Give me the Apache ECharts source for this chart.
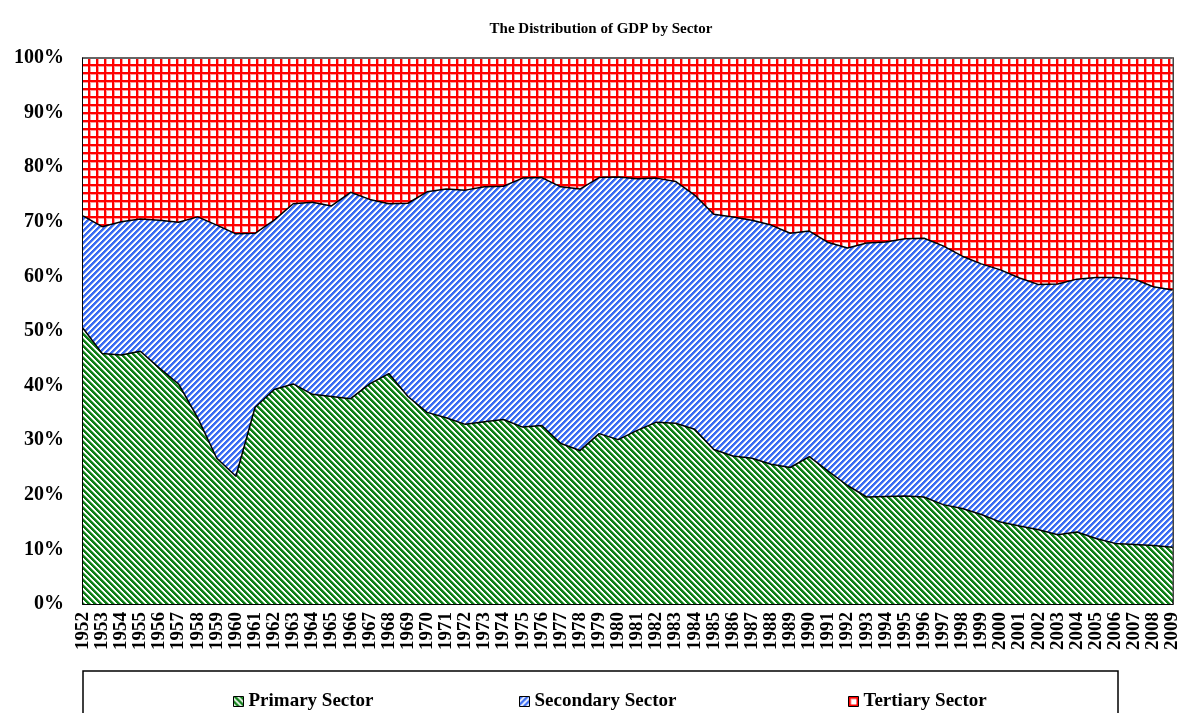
<!DOCTYPE html>
<html>
<head>
<meta charset="utf-8">
<title>GDP by Sector</title>
<script src="https://cdn.jsdelivr.net/npm/echarts@6/dist/echarts.min.js"></script>
<style>
  html, body { margin: 0; padding: 0; background: #fff; }
  #chart { width: 1182px; height: 713px; }
</style>
</head>
<body>
<div id="chart"></div>
<script>
var years = []
for (var y = 1952; y <= 2009; y++) {
  years.push(String(y))
}

// share of GDP (%)
var primary = [
  50.5, 45.9, 45.6, 46.3, 43.2, 40.3, 34.1, 26.7, 23.4, 36.0,
  39.3, 40.3, 38.4, 38.0, 37.6, 40.3, 42.2, 38.0, 35.1, 34.1,
  32.9, 33.4, 33.8, 32.4, 32.7, 29.4, 28.1, 31.2, 30.1, 31.8,
  33.3, 33.1, 32.0, 28.3, 27.1, 26.7, 25.6, 25.0, 27.0, 24.3,
  21.7, 19.6, 19.7, 19.8, 19.6, 18.2, 17.5, 16.4, 15.0, 14.3,
  13.6, 12.7, 13.2, 12.0, 11.1, 10.9, 10.7, 10.4
]
var secondary = [
  20.6, 23.2, 24.4, 24.2, 27.1, 29.6, 36.8, 42.7, 44.4, 31.9,
  31.0, 33.0, 35.2, 34.9, 37.8, 33.8, 31.1, 35.4, 40.4, 41.9,
  42.9, 43.0, 42.7, 45.6, 45.4, 47.0, 47.9, 46.9, 48.1, 46.1,
  44.7, 44.3, 42.9, 43.1, 43.8, 43.6, 43.8, 42.9, 41.3, 41.9,
  43.5, 46.5, 46.6, 47.1, 47.4, 47.4, 46.2, 45.9, 46.2, 45.4,
  44.9, 45.9, 46.3, 47.8, 48.7, 48.6, 47.4, 47.1
]
var tertiary = [
  28.9, 30.9, 30.0, 29.5, 29.7, 30.1, 29.1, 30.6, 32.2, 32.1,
  29.7, 26.7, 26.4, 27.1, 24.6, 25.9, 26.7, 26.6, 24.5, 24.0,
  24.2, 23.6, 23.5, 22.0, 21.9, 23.6, 24.0, 21.9, 21.8, 22.1,
  22.0, 22.6, 25.1, 28.6, 29.1, 29.7, 30.6, 32.1, 31.7, 33.8,
  34.8, 33.9, 33.7, 33.1, 33.0, 34.4, 36.3, 37.7, 38.8, 40.3,
  41.5, 41.4, 40.5, 40.2, 40.2, 40.5, 41.9, 42.5
]
var sectorNames = ['Primary Sector', 'Secondary Sector', 'Tertiary Sector']

var font = 'Liberation Serif, Times New Roman, serif'

// excel-like hatch fills
function stripes(color, soft, dir) {
  var size = 6
  var c = document.createElement('canvas')
  c.width = size
  c.height = size
  var ctx = c.getContext('2d')
  ctx.fillStyle = '#fff'
  ctx.fillRect(0, 0, size, size)
  for (var i = 0; i < size; i++) {
    for (var j = 0; j < size; j++) {
      var k = dir > 0 ? (i + j) % size : ((i - j) % size + size) % size
      if (k < 3) {
        ctx.fillStyle = color
        ctx.fillRect(i, j, 1, 1)
      } else if (k === 3) {
        ctx.fillStyle = soft
        ctx.fillRect(i, j, 1, 1)
      }
    }
  }
  return c
}
function grid() {
  var size = 8
  var c = document.createElement('canvas')
  c.width = size
  c.height = size
  var ctx = c.getContext('2d')
  ctx.fillStyle = '#fff'
  ctx.fillRect(0, 0, size, size)
  ctx.fillStyle = '#ff9a9a'
  ctx.fillRect(2, 0, 1, size)
  ctx.fillRect(0, 2, size, 1)
  ctx.fillStyle = '#ff0000'
  ctx.fillRect(0, 0, 2, size)
  ctx.fillRect(0, 0, size, 2)
  return c
}

var fills = [
  { image: stripes('#0f7f17', '#8cc48f', -1), repeat: 'repeat' },
  { image: stripes('#3a6cf2', '#a9bff7', 1), repeat: 'repeat' },
  { image: grid(), repeat: 'repeat' }
]

function legendAt(name, left) {
  return {
    data: [name],
    left: left,
    top: 687,
    itemWidth: 10,
    itemHeight: 10,
    icon: 'rect',
    itemStyle: { borderColor: '#000', borderWidth: 1 },
    textStyle: { fontFamily: font, fontWeight: 'bold', fontSize: 19, color: '#000' }
  }
}

var chart = echarts.init(document.getElementById('chart'), null, { renderer: 'canvas' })
chart.setOption({
  animation: false,
  title: {
    text: 'The Distribution of GDP by Sector',
    left: 596,
    textAlign: 'center',
    top: 17,
    textStyle: { fontFamily: font, fontWeight: 'bold', fontSize: 15, color: '#000' }
  },
  legend: [
    legendAt(sectorNames[0], 228),
    legendAt(sectorNames[1], 514),
    legendAt(sectorNames[2], 843)
  ],
  graphic: [{
    type: 'rect',
    shape: { x: 83, y: 671, width: 1035, height: 60 },
    style: { fill: 'none', stroke: '#000', lineWidth: 1.5 },
    silent: true
  }],
  grid: { left: 83, right: 8, top: 58, bottom: 109 },
  xAxis: {
    type: 'category',
    boundaryGap: false,
    data: years,
    axisLine: { lineStyle: { color: '#000', width: 2 } },
    axisTick: { inside: true, length: 5, interval: 0, lineStyle: { color: '#000' } },
    axisLabel: {
      interval: 0,
      rotate: 90,
      margin: 8,
      fontFamily: font,
      fontWeight: 'bold',
      fontSize: 19,
      color: '#000'
    },
    splitLine: { show: false }
  },
  yAxis: [{
    type: 'value',
    min: 0,
    max: 100,
    interval: 10,
    axisLine: { show: true, lineStyle: { color: '#000', width: 2 } },
    axisTick: { show: true, inside: true, length: 5, lineStyle: { color: '#000' } },
    axisLabel: {
      formatter: '{value}%',
      margin: 19,
      fontFamily: font,
      fontWeight: 'bold',
      fontSize: 20,
      color: '#000'
    },
    splitLine: { show: false }
  }, {
    // right frame of the plot area
    type: 'value',
    position: 'right',
    min: 0,
    max: 100,
    axisLine: { show: true, lineStyle: { color: '#444', width: 2 } },
    axisTick: { show: false },
    axisLabel: { show: false },
    splitLine: { show: false }
  }],
  series: sectorNames.map(function(name, i) {
    var vals = [primary, secondary, tertiary][i]
    return {
      name: name,
      type: 'line',
      stack: 'gdp',
      data: vals,
      showSymbol: false,
      symbol: 'none',
      itemStyle: { color: fills[i] },
      lineStyle: i < 2 ? { color: '#000', width: 1.5 } : { color: '#666', width: 2 },
      areaStyle: { color: fills[i], opacity: 1 }
    }
  })
})
</script>
</body>
</html>
